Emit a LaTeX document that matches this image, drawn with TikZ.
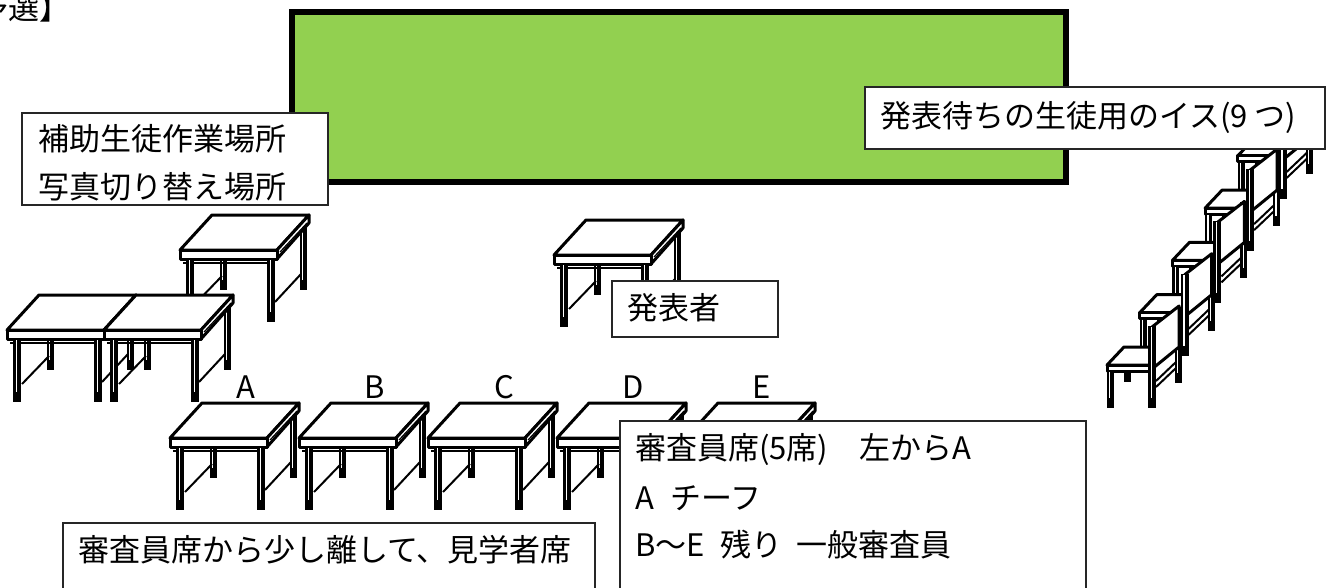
\documentclass[tikz,border=0pt]{standalone}
\usepackage{fontspec}
\setmainfont{Noto Sans CJK JP}
\usetikzlibrary{positioning,calc}
\definecolor{stagegreen}{HTML}{92D050}

\tikzset{
  slab/.style={fill=white, draw=black, line width=3pt, line join=round},
  brace/.style={line width=2pt},
  box/.style={draw=black!85, line width=1.5pt, fill=white, anchor=north west, inner sep=0},
  lbl/.style={font=\fontsize{31}{37}\selectfont, inner sep=0, anchor=west},
}

% leg: x, top, bottom, width
\newcommand{\leg}[4]{%
  \fill (#1,#2) rectangle (#1+#4,#3);
  \draw[white, line width=1.3pt] (#1+#4*0.4,#2+1) -- (#1+#4*0.4,#3-10);
}

% desk, top front-left corner at (#1,#2)
\newcommand{\desk}[2]{%
  \begin{scope}[shift={(#1,#2)}]
    \leg{40}{10}{40}{7}
    \leg{120}{-26}{40}{7}
    \draw[brace] (15,54) -- (42,26);
    \draw[brace] (95,52) -- (121,24);
    \filldraw[slab] (0,0) -- (32,-35) -- (129,-35) -- (97,0) -- cycle;
    \filldraw[slab] (97,0) -- (129,-35) -- (129,-27) -- (97,9) -- cycle;
    \draw[line width=1.2pt] (100,2) -- (127,-27);
    \filldraw[slab] (0,0) rectangle (97,9);
    \draw[line width=1.6pt] (3,13) -- (95,13);
    \leg{6}{9}{72}{8}
    \leg{87}{9}{72}{8}
  \end{scope}}

% chair, seat front-left corner at (#1,#2)
\newcommand{\chair}[2]{%
  \begin{scope}[shift={(#1,#2)}]
    \fill (17,6) rectangle (24,17);
    \leg{68}{-58}{18}{7}
    \draw[brace] (49,16) -- (69,-3);
    \draw[brace] (49,22) -- (69,3);
    \filldraw[slab] (0,0) -- (17,-18) -- (59,-18) -- (42,0) -- cycle;
    \filldraw[slab] (0,0) rectangle (42,6);
    \leg{0}{6}{43}{7}
    \filldraw[slab] (45,-38) -- (72,-59) -- (72,-18) -- (45,4) -- cycle;
    \leg{41}{-39}{43}{8}
  \end{scope}}

\begin{document}
\begin{tikzpicture}[x=1pt, y=-1pt]
  \useasboundingbox (0,0) rectangle (1327,587);

  \node[lbl, anchor=east] (title) at (71,8) {【予選】};

  % stage
  \node[draw, fill=stagegreen, line width=6pt, inner sep=0, anchor=north west,
        minimum width=774, minimum height=170] (stage) at (289,9) {};

  % desks
  \desk{180}{250}
  \desk{7}{330}
  \desk{104}{330}
  \desk{554}{255}
  \foreach \n [count=\i from 0] in {A,B,C,D,E} {
    \desk{170+129*\i}{438}
    \node[lbl, anchor=center] (seat\n) at (246+129*\i,387) {\n};
  }

  % chairs
  \foreach \k in {4,3,...,0}
    \chair{1107+32.7*\k}{365-52.3*\k};

  % boxes
  \node[box, minimum width=306, minimum height=92] (helper) at (21,112) {};
  \node[lbl] (helper1) at (38,139) {補助生徒作業場所};
  \node[lbl] (helper2) at (38,187) {写真切り替え場所};

  \node[box, minimum width=460, minimum height=62] (waiting) at (864,86) {};
  \node[lbl] (waitingtext) at (880,117) {発表待ちの生徒用のイス(9 つ)};

  \node[box, minimum width=166, minimum height=56] (presenter) at (611,280) {};
  \node[lbl] (presentertext) at (627,308) {発表者};

  \node[box, minimum width=466, minimum height=190] (judges) at (619,420) {};
  \node[lbl] (judges1) at (635,450) {審査員席(5席)　左からA};
  \node[lbl] (judges2) at (635,498) {A\hspace{16pt}チーフ};
  \node[lbl] (judges3) at (635,545) {B～E\hspace{16pt}残り\hspace{14pt}一般審査員};

  \node[box, minimum width=532, minimum height=90] (visitors) at (62,522) {};
  \node[lbl] (visitorstext) at (78,550) {審査員席から少し離して、見学者席};
\end{tikzpicture}
\end{document}
